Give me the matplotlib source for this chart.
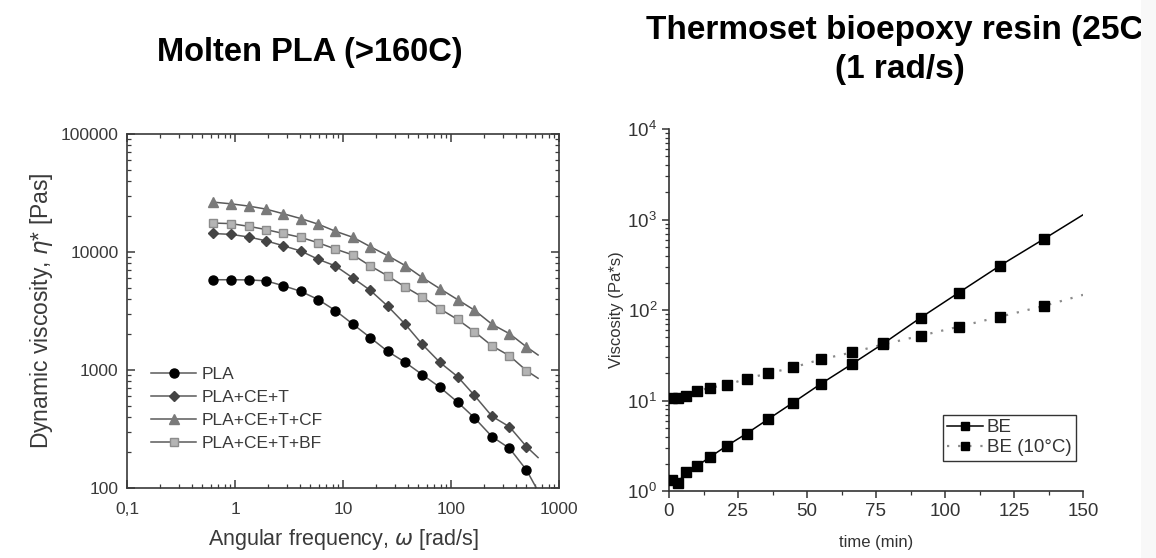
import matplotlib.pyplot as plt
import matplotlib.ticker as mticker
from matplotlib.patches import Rectangle

plt.rcParams['font.family'] = ['Liberation Sans', 'DejaVu Sans']

# left panel: dynamic viscosity vs angular frequency
freq = [0.62, 0.92, 1.34, 1.93, 2.8, 4.07, 5.9, 8.5, 12.4, 17.9, 25.9,
        37.7, 54.2, 78.9, 115, 165, 240, 348, 500]
pla = [5820, 5820, 5800, 5700, 5180, 4640, 3950, 3190, 2440, 1880, 1440,
       1160, 914, 714, 535, 393, 272, 217, 142]
pla_ce_t = [14350, 14100, 13400, 12450, 11300, 10190, 8670, 7620, 6010, 4730,
            3480, 2440, 1650, 1160, 879, 608, 405, 330, 224]
pla_ce_t_cf = [26500, 25600, 24500, 23100, 21100, 19200, 17200, 15000, 13300,
               11100, 9310, 7670, 6080, 4890, 3950, 3210, 2440, 2030, 1570]
pla_ce_t_bf = [17600, 17400, 16500, 15500, 14350, 13300, 11970, 10590, 9430,
               7620, 6280, 5050, 4160, 3300, 2680, 2110, 1600, 1320, 987]
# where the fitted curves stop, past the last marker
freq_end = [617, 640, 640, 640]
visc_end = [100, 181, 1340, 851]

# right panel: viscosity vs time
time_min = [1.1, 3.1, 6.2, 10.2, 14.9, 20.9, 28.1, 35.9, 45.0, 54.9, 66.3,
            77.7, 91.2, 104.9, 120.0, 135.9]
be = [1.31, 1.23, 1.62, 1.89, 2.38, 3.15, 4.31, 6.21, 9.5, 15.2, 25.3, 42.7,
      82.3, 155, 310, 611]
be_10c = [10.7, 10.7, 11.3, 12.7, 13.9, 14.8, 17.5, 19.9, 23.2, 28.4, 34.0,
          41.7, 52.0, 65.3, 84.4, 111]
time_end = 150
be_end = 1127
be_10c_end = 147

fig = plt.figure(figsize=(11.56, 5.58), dpi=100)

# ---- left panel ----
ax1 = fig.add_axes([127 / 1156, 1 - 488 / 558, 432 / 1156, 354 / 558])
series = [
    ('PLA', pla, 'o', 'black', 'black', 6.5),
    ('PLA+CE+T', pla_ce_t, 'D', '#444444', '#444444', 5.5),
    ('PLA+CE+T+CF', pla_ce_t_cf, '^', '#7a7a7a', '#7a7a7a', 6.5),
    ('PLA+CE+T+BF', pla_ce_t_bf, 's', '#b4b4b4', '#8c8c8c', 5.5),
]
for i, (name, vals, mk, fc, ec, ms) in enumerate(series):
    ax1.plot(freq + [freq_end[i]], vals + [visc_end[i]], color='#5a5a5a', lw=1.1,
             zorder=2)
    ax1.plot(freq, vals, linestyle='none', marker=mk, markersize=ms,
             markerfacecolor=fc, markeredgecolor=ec, zorder=3)
    # legend proxy
    ax1.plot([], [], color='#5a5a5a', lw=1.1, marker=mk, markersize=ms,
             markerfacecolor=fc, markeredgecolor=ec, label=name)

ax1.set_xscale('log')
ax1.set_yscale('log')
ax1.set_xlim(0.1, 1000)
ax1.set_ylim(100, 100000)
ax1.set_xticks([0.1, 1, 10, 100, 1000])
ax1.set_xticklabels(['0,1', '1', '10', '100', '1000'])
ax1.set_yticks([100, 1000, 10000, 100000])
ax1.set_yticklabels(['100', '1000', '10000', '100000'])
ax1.tick_params(which='both', direction='in', top=True, right=True,
                labelsize=12.5, labelcolor='#3a3a3a', color='#3a3a3a')
ax1.tick_params(axis='x', which='major', pad=10)
ax1.tick_params(axis='y', which='major', pad=6)
ax1.tick_params(which='major', length=6, width=1.1)
ax1.tick_params(which='minor', length=3, width=0.9)
for sp in ax1.spines.values():
    sp.set_color('#3a3a3a')
    sp.set_linewidth(1.2)
ax1.set_xlabel(r'Angular frequency, $\omega$ [rad/s]', fontsize=15.5,
               color='#3a3a3a', labelpad=7)
ax1.set_ylabel(r'Dynamic viscosity, $\eta$* [Pas]', fontsize=16.5,
               color='#3a3a3a', labelpad=4)
ax1.legend(loc='lower left', bbox_to_anchor=(0.02, 0.06), frameon=False,
           fontsize=12.5, handlelength=2.6, handletextpad=0.3,
           labelspacing=0.45, labelcolor='#3a3a3a')

# ---- right panel ----
ax2 = fig.add_axes([669 / 1156, 1 - 491 / 558, 414 / 1156, 362 / 558])
ax2.plot(time_min + [time_end], be + [be_end], color='black', lw=1.1, zorder=2)
ax2.plot(time_min + [time_end], be_10c + [be_10c_end], color='#8a8a8a', lw=1.6,
         linestyle=(0, (1, 4)), zorder=2)
ax2.plot(time_min, be, linestyle='none', marker='s', markersize=6.5,
         color='black', zorder=3)
ax2.plot(time_min, be_10c, linestyle='none', marker='s', markersize=6.5,
         color='black', zorder=3)
ax2.plot([], [], color='black', lw=1.1, marker='s', markersize=6, label='BE')
ax2.plot([], [], color='#8a8a8a', lw=1.6, linestyle=(0, (1, 4)), marker='s',
         markersize=6, markerfacecolor='black', markeredgecolor='black',
         label='BE (10°C)')

ax2.set_yscale('log')
ax2.set_xlim(0, 150)
ax2.set_ylim(1, 10000)
ax2.set_xticks([0, 25, 50, 75, 100, 125, 150])
ax2.xaxis.set_minor_locator(mticker.MultipleLocator(12.5))
ax2.yaxis.set_major_formatter(mticker.LogFormatterSciNotation())
ax2.spines['top'].set_visible(False)
ax2.spines['right'].set_visible(False)
for sp in ('left', 'bottom'):
    ax2.spines[sp].set_color('#333333')
    ax2.spines[sp].set_linewidth(1.2)
ax2.tick_params(which='both', direction='out', labelsize=13.5,
                labelcolor='#333333', color='#333333')
ax2.tick_params(which='major', length=5, width=1.1)
ax2.tick_params(which='minor', length=3, width=0.9)
ax2.set_xlabel('time (min)', fontsize=12, color='#333333', labelpad=11)
ax2.set_ylabel('Viscosity (Pa*s)', fontsize=12, color='#333333', labelpad=2)
leg = ax2.legend(loc='lower right', bbox_to_anchor=(0.983, 0.083),
                 borderaxespad=0, fontsize=13.5, handlelength=1.9,
                 handletextpad=0.2, labelspacing=0.15, borderpad=0.25,
                 fancybox=False, framealpha=1, labelcolor='#333333')
leg.get_frame().set_edgecolor('#333333')
leg.get_frame().set_linewidth(1.0)

# ---- titles ----
fig.text(310 / 1156, 1 - 52 / 558, 'Molten PLA (>160C)', ha='center',
         va='center', fontsize=23.5, fontweight='bold')
fig.text(900 / 1156, 1 - 50 / 558, 'Thermoset bioepoxy resin (25C)\n(1 rad/s)',
         ha='center', va='center', fontsize=24, fontweight='bold',
         linespacing=1.3)

# light strip at the right edge of the picture
fig.patches.append(Rectangle((1141 / 1156, 0), 15 / 1156, 1,
                             transform=fig.transFigure, facecolor='#f8f8f8',
                             edgecolor='none', zorder=10))

fig.savefig('out.png', dpi=100)
